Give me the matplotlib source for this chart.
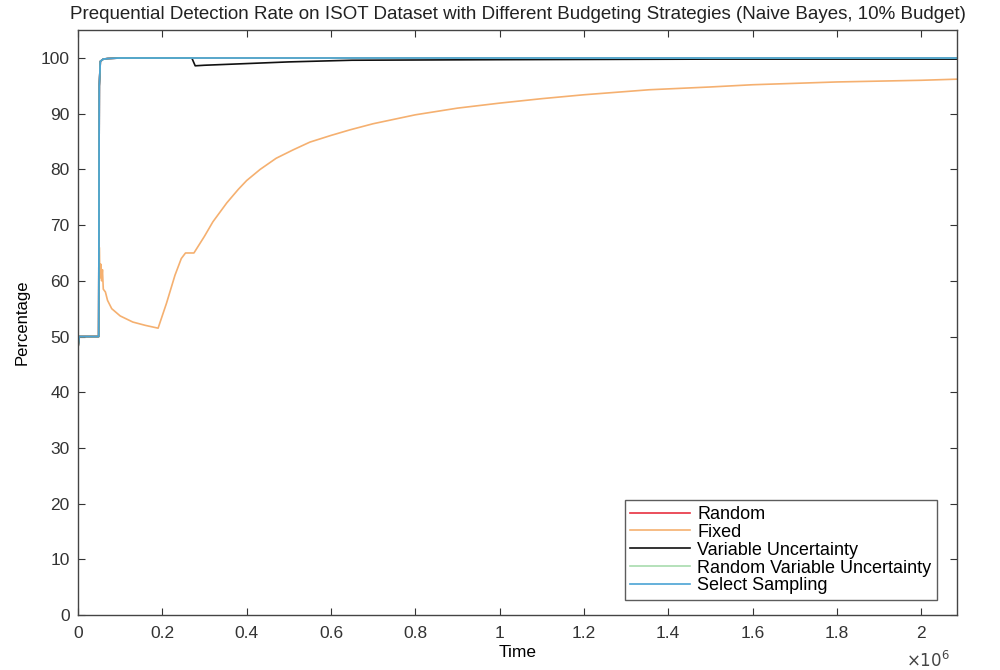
"""
Prequential detection rate on ISOT, Naive Bayes with a 10% budget.
MATLAB-style line chart: one curve per budgeting strategy.
"""

import matplotlib
matplotlib.use("Agg")
import matplotlib.pyplot as plt

plt.rcParams["font.family"] = ["Liberation Sans", "DejaVu Sans"]

# Time in units of 1e6 samples
t_top = [0.0, 0.003, 0.049, 0.0505, 0.053, 0.06, 0.07, 0.1, 0.2, 0.5, 1.0, 1.5, 2.085]
random_rate = [48.0, 50.0, 50.0, 95.0, 99.4, 99.8, 99.9, 100.0, 100.0, 100.0, 100.0, 100.0, 100.0]
rvu_rate    = [48.0, 50.0, 50.0, 95.0, 99.4, 99.8, 99.9, 100.0, 100.0, 100.0, 100.0, 100.0, 100.0]
select_rate = [48.0, 50.0, 50.0, 95.0, 99.4, 99.8, 99.9, 100.0, 100.0, 100.0, 100.0, 100.0, 100.0]

t_var = [0.0, 0.003, 0.049, 0.0505, 0.053, 0.06, 0.07, 0.1, 0.2, 0.27, 0.278,
         0.3, 0.4, 0.5, 0.65, 1.0, 1.5, 2.085]
var_rate = [48.0, 50.0, 50.0, 95.0, 99.4, 99.8, 99.9, 100.0, 100.0, 100.0, 98.6,
            98.7, 99.0, 99.3, 99.6, 99.7, 99.8, 99.8]

t_fixed = [0.0, 0.003, 0.049, 0.0505, 0.052, 0.054, 0.056, 0.058, 0.06, 0.065,
           0.07, 0.08, 0.1, 0.13, 0.16, 0.19, 0.21, 0.23, 0.245, 0.255, 0.275,
           0.3, 0.32, 0.353, 0.38, 0.4, 0.432, 0.47, 0.51, 0.55, 0.6, 0.645, 0.7,
           0.8, 0.9, 1.0, 1.1, 1.2, 1.355, 1.5, 1.6, 1.8, 2.0, 2.085]
fixed_rate = [48.0, 50.0, 50.0, 66.0, 60.5, 63.0, 60.0, 62.0, 58.5, 58.0,
              56.5, 55.0, 53.7, 52.6, 52.0, 51.5, 56.0, 61.0, 64.0, 65.0, 65.0,
              68.0, 70.6, 74.0, 76.4, 78.0, 80.0, 82.0, 83.5, 84.9, 86.1, 87.1, 88.2,
              89.8, 91.0, 91.9, 92.7, 93.4, 94.3, 94.8, 95.2, 95.7, 96.0, 96.2]

x_ticks = [0, 0.2, 0.4, 0.6, 0.8, 1, 1.2, 1.4, 1.6, 1.8, 2]
x_tick_labels = ["0", "0.2", "0.4", "0.6", "0.8", "1", "1.2", "1.4", "1.6", "1.8", "2"]

SERIES = [
    ("Random",                      t_top,   random_rate, "#e8303f"),
    ("Fixed",                       t_fixed, fixed_rate,  "#f5b070"),
    ("Variable Uncertainty",        t_var,   var_rate,    "#111111"),
    ("Random Variable Uncertainty", t_top,   rvu_rate,    "#a8dcae"),
    ("Select Sampling",             t_top,   select_rate, "#4aa3d4"),
]

fig = plt.figure(figsize=(10, 6.7), dpi=100)
ax = fig.add_axes([0.078, 0.082, 0.879, 0.873])

for name, t, y, color in SERIES:
    ax.plot(t, y, color=color, linewidth=1.2, label=name)

ax.set_xlim(0, 2.085)
ax.set_ylim(0, 105)
ax.set_xticks(x_ticks)
ax.set_xticklabels(x_tick_labels)
ax.set_yticks(range(0, 101, 10))

ax.tick_params(direction="in", top=True, right=True, labelsize=12.5,
               colors="#333333", length=5)
ax.tick_params(axis="x", pad=8)
ax.tick_params(axis="y", pad=6)
for sp in ax.spines.values():
    sp.set_color("#444444")
    sp.set_linewidth(1.0)

# MATLAB-style exponent label under the right end of the x axis
ax.annotate(r"$\times10^{6}$", xy=(0.967, -0.077), xycoords="axes fraction",
            ha="center", va="center", fontsize=12, color="#444444")

ax.set_title("Prequential Detection Rate on ISOT Dataset with Different Budgeting Strategies (Naive Bayes, 10% Budget)",
             fontsize=13.5, color="#222222", pad=8)
ax.set_xlabel("Time", fontsize=12.5, labelpad=3)
ax.set_ylabel("Percentage", fontsize=12, labelpad=8)

leg = ax.legend(loc="lower right", bbox_to_anchor=(0.977, 0.026), borderaxespad=0,
                fontsize=13, frameon=True, fancybox=False,
                handlelength=3.3, handletextpad=0.4, borderpad=0.3,
                labelspacing=0.05)
leg.get_frame().set_edgecolor("#333333")
leg.get_frame().set_linewidth(1.0)

fig.savefig("out.png", dpi=100)
